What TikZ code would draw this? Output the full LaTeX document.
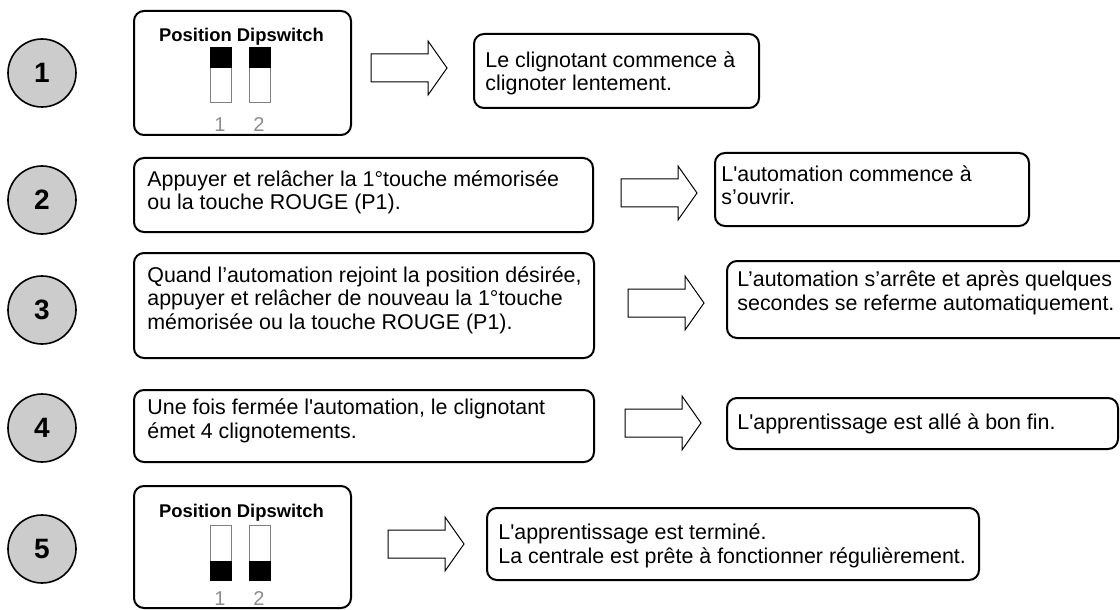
\documentclass[tikz,border=0pt]{standalone}
\usepackage{fontspec}
\setmainfont{Liberation Sans}
\usetikzlibrary{positioning}
\tikzset{
  panel/.style={
    draw,
    line width=1pt,
    rounded corners=5pt,
    anchor=north west,
    inner sep=0pt
  },
  txt/.style={anchor=base west, align=left, inner sep=0pt,
    font=\fontsize{10.7}{11.6}\selectfont},
  num/.style={circle, draw, line width=0.8pt, fill=black!20,
    minimum size=34pt, inner sep=0pt, font=\fontsize{14}{14}\bfseries},
  heading/.style={anchor=base, inner sep=0pt, font=\fontsize{9.2}{10}\bfseries},
  slot/.style={draw=black!50, line width=0.4pt, fill=white, anchor=north west,
    minimum width=10.5pt, minimum height=27.5pt, inner sep=0pt},
  digit/.style={text=black!45, inner sep=0pt, font=\fontsize{10}{10}\selectfont},
  fatarrow/.pic={
    \draw[line width=0.5pt] (0,-14) -- (57,-14) -- (57,-27) -- (76,0)
      -- (57,27) -- (57,14) -- (0,14) -- cycle;
  }
}

\begin{document}
\begin{tikzpicture}[x=0.5pt,y=-0.5pt]
    \useasboundingbox (0,0) rectangle (1120,610);

    % step numbers
    \node[num] (c1) at (42,73) {1};
    \node[num] (c2) at (42,200) {2};
    \node[num] (c3) at (42,310) {3};
    \node[num] (c4) at (42,428) {4};
    \node[num] (c5) at (42,549) {5};

    % step 1 : dipswitches up
    \node[panel, minimum width=108.5pt, minimum height=62pt] (d1) at (133,10) {};
    \node[heading] (d1h) at (241.5,42) {Position Dipswitch};
    \node[slot] (s11) at (210,47) {};
    \node[slot] (s12) at (249,47) {};
    \fill (s11.north west) rectangle ([yshift=-10.5pt]s11.north east);
    \fill (s12.north west) rectangle ([yshift=-10.5pt]s12.north east);
    \node[digit] (n11) at (220,125) {1};
    \node[digit] (n12) at (259,125) {2};
    \pic at (371,68) {fatarrow};
    \node[panel, minimum width=142.5pt, minimum height=37pt] (r1) at (473,33) {};
    \node[txt] (r1t) at (485,91) {Le clignotant commence à\\clignoter lentement.};

    % step 2
    \node[panel, minimum width=229.5pt, minimum height=37pt] (l2) at (133,157) {};
    \node[txt] (l2t) at (147,210) {Appuyer et relâcher la 1°touche mémorisée\\ou la touche ROUGE (P1).};
    \pic at (621,193) {fatarrow};
    \node[panel, minimum width=157pt, minimum height=36.5pt] (r2) at (714,152) {};
    \node[txt] (r2t) at (721,205) {L\textquotesingle automation commence à\\s’ouvrir.};

    % step 3
    \node[panel, minimum width=230pt, minimum height=52.5pt] (l3) at (133,252) {};
    \node[txt] (l3t) at (147,329) {Quand l’automation rejoint la position désirée,\\appuyer et relâcher de nouveau la 1°touche\\mémorisée ou la touche ROUGE (P1).};
    \pic at (628,303) {fatarrow};
    \node[panel, minimum width=205pt, minimum height=38.5pt] (r3) at (726,260) {};
    \node[txt] (r3t) at (737,310) {L’automation s’arrête et après quelques\\secondes se referme automatiquement.};

    % step 4
    \node[panel, minimum width=230pt, minimum height=36pt] (l4) at (133,389) {};
    \node[txt] (l4t) at (147,438) {Une fois fermée l\textquotesingle automation, le clignotant\\émet 4 clignotements.};
    \pic at (625,423) {fatarrow};
    \node[panel, minimum width=195.5pt, minimum height=25.5pt] (r4) at (726,397) {};
    \node[txt] (r4t) at (737,429) {L\textquotesingle apprentissage est allé à bon fin.};

    % step 5 : dipswitches down
    \node[panel, minimum width=108.5pt, minimum height=61pt] (d5) at (133,485) {};
    \node[heading] (d5h) at (241.5,517) {Position Dipswitch};
    \node[slot] (s51) at (210,525) {};
    \node[slot] (s52) at (249,525) {};
    \fill (s51.south west) rectangle ([yshift=10pt]s51.south east);
    \fill (s52.south west) rectangle ([yshift=10pt]s52.south east);
    \node[digit] (n51) at (220,599) {1};
    \node[digit] (n52) at (259,599) {2};
    \pic at (388,544) {fatarrow};
    \node[panel, minimum width=246pt, minimum height=36pt] (r5) at (486,507) {};
    \node[txt] (r5t) at (498,563) {L\textquotesingle apprentissage est terminé.\\La centrale est prête à fonctionner régulièrement.};
\end{tikzpicture}
\end{document}
